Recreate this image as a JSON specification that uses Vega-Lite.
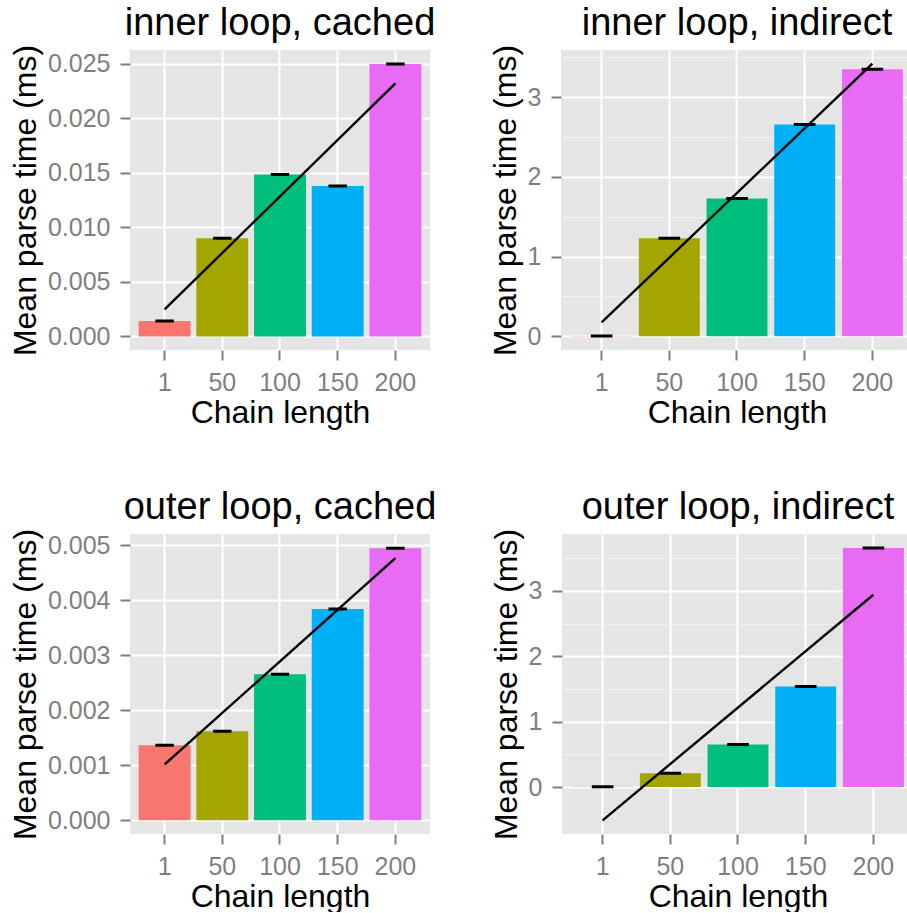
{
  "$schema": "https://vega.github.io/schema/vega-lite/v6.json",
  "background": "white",
  "padding": {"left": 9, "top": 5, "right": 0, "bottom": 0},
  "datasets": {
    "bars": [
      {"panel": "inner loop, cached", "len": 1, "time": 0.00142},
      {"panel": "inner loop, cached", "len": 50, "time": 0.0090},
      {"panel": "inner loop, cached", "len": 100, "time": 0.01486},
      {"panel": "inner loop, cached", "len": 150, "time": 0.01379},
      {"panel": "inner loop, cached", "len": 200, "time": 0.0250},
      {"panel": "inner loop, indirect", "len": 1, "time": 0.004},
      {"panel": "inner loop, indirect", "len": 50, "time": 1.229},
      {"panel": "inner loop, indirect", "len": 100, "time": 1.729},
      {"panel": "inner loop, indirect", "len": 150, "time": 2.657},
      {"panel": "inner loop, indirect", "len": 200, "time": 3.350},
      {"panel": "outer loop, cached", "len": 1, "time": 0.001364},
      {"panel": "outer loop, cached", "len": 50, "time": 0.001618},
      {"panel": "outer loop, cached", "len": 100, "time": 0.002655},
      {"panel": "outer loop, cached", "len": 150, "time": 0.003836},
      {"panel": "outer loop, cached", "len": 200, "time": 0.00494},
      {"panel": "outer loop, indirect", "len": 1, "time": 0.004},
      {"panel": "outer loop, indirect", "len": 50, "time": 0.21},
      {"panel": "outer loop, indirect", "len": 100, "time": 0.65},
      {"panel": "outer loop, indirect", "len": 150, "time": 1.536},
      {"panel": "outer loop, indirect", "len": 200, "time": 3.656}
    ],
    "fits": [
      {"panel": "inner loop, cached", "len": 1, "time": 0.00247},
      {"panel": "inner loop, cached", "len": 200, "time": 0.02322},
      {"panel": "inner loop, indirect", "len": 1, "time": 0.176},
      {"panel": "inner loop, indirect", "len": 200, "time": 3.42},
      {"panel": "outer loop, cached", "len": 1, "time": 0.001015},
      {"panel": "outer loop, cached", "len": 200, "time": 0.004762},
      {"panel": "outer loop, indirect", "len": 1, "time": -0.509},
      {"panel": "outer loop, indirect", "len": 200, "time": 2.94}
    ]
  },
  "config": {
    "font": "Liberation Sans",
    "view": {"fill": "#E5E5E5", "stroke": null},
    "axis": {
      "domain": false,
      "tickColor": "#7F7F7F",
      "tickWidth": 2,
      "tickSize": 10,
      "labelColor": "#7F7F7F",
      "labelFont": "Liberation Sans",
      "labelFontSize": 25,
      "titleFont": "Liberation Sans",
      "titleFontSize": 32,
      "titleFontWeight": "normal",
      "titleColor": "#000000",
      "gridColor": "#FFFFFF",
      "gridWidth": 2,
      "gridOpacity": 1,
      "labelOverlap": false,
      "labelFlush": false
    },
    "axisX": {"labelAngle": 0, "labelPadding": 10, "titlePadding": 2, "bandPosition": 0.5, "grid": true},
    "axisY": {"labelPadding": 10, "titlePadding": 5},
    "title": {"fontSize": 38, "fontWeight": "normal", "font": "Liberation Sans", "color": "#000000", "frame": "group", "anchor": "middle", "offset": 1},
    "legend": {"disable": true}
  },
  "spacing": 61,
  "vconcat": [
    {
      "spacing": 53,
      "hconcat": [
        {
          "width": 300, "height": 300,
          "title": "inner loop, cached",
          "layer": [
            {
              "data": {"name": "bars"},
              "transform": [{"filter": "datum.panel === 'inner loop, cached'"}],
              "mark": {"type": "bar"},
              "encoding": {
                "x": {"field": "len", "type": "ordinal", "scale": {"domain": [1, 50, 100, 150, 200], "paddingInner": 0.1, "paddingOuter": 0.15}, "axis": {"title": "Chain length"}},
                "y": {"field": "time", "type": "quantitative", "scale": {"domain": [-0.00125, 0.02628], "nice": false, "zero": false},
                  "axis": {
                    "title": "Mean parse time (ms)",
                    "values": [0, 0.0025, 0.005, 0.0075, 0.01, 0.0125, 0.015, 0.0175, 0.02, 0.0225, 0.025],
                    "labelExpr": "abs(datum.value/0.005 - round(datum.value/0.005)) < 0.001 ? format(datum.value, '.3f') : ''",
                    "gridColor": {"condition": {"test": "abs(datum.value/0.005 - round(datum.value/0.005)) < 0.001", "value": "#FFFFFF"}, "value": "#F2F2F2"},
                    "gridWidth": {"condition": {"test": "abs(datum.value/0.005 - round(datum.value/0.005)) < 0.001", "value": 2}, "value": 1},
                    "tickOpacity": {"condition": {"test": "abs(datum.value/0.005 - round(datum.value/0.005)) < 0.001", "value": 1}, "value": 0}
                  }
                },
                "color": {"field": "len", "type": "ordinal", "scale": {"domain": [1, 50, 100, 150, 200], "range": ["#F8766D", "#A3A500", "#00BF7D", "#00B0F6", "#E76BF3"]}, "legend": null}
              }
            },
            {
              "data": {"name": "bars"},
              "transform": [{"filter": "datum.panel === 'inner loop, cached'"}],
              "mark": {"type": "bar", "width": {"band": 0.355}, "fillOpacity": 0, "stroke": "black", "strokeWidth": 3},
              "encoding": {
                "x": {"field": "len", "type": "ordinal"},
                "y": {"field": "time", "type": "quantitative"},
                "y2": {"field": "time"}
              }
            },
            {
              "data": {"name": "fits"},
              "transform": [{"filter": "datum.panel === 'inner loop, cached'"}],
              "mark": {"type": "line", "color": "black", "strokeWidth": 2.4},
              "encoding": {
                "x": {"field": "len", "type": "ordinal"},
                "y": {"field": "time", "type": "quantitative"}
              }
            }
          ]
        },
        {
          "width": 352, "height": 300,
          "title": "inner loop, indirect",
          "layer": [
            {
              "data": {"name": "bars"},
              "transform": [{"filter": "datum.panel === 'inner loop, indirect'"}],
              "mark": {"type": "bar"},
              "encoding": {
                "x": {"field": "len", "type": "ordinal", "scale": {"domain": [1, 50, 100, 150, 200], "paddingInner": 0.1, "paddingOuter": 0.15}, "axis": {"title": "Chain length"}},
                "y": {"field": "time", "type": "quantitative", "scale": {"domain": [-0.171, 3.591], "nice": false, "zero": false},
                  "axis": {
                    "title": "Mean parse time (ms)",
                    "values": [0, 0.5, 1, 1.5, 2, 2.5, 3, 3.5],
                    "labelExpr": "abs(datum.value - round(datum.value)) < 0.001 ? format(datum.value, 'd') : ''",
                    "gridColor": {"condition": {"test": "abs(datum.value - round(datum.value)) < 0.001", "value": "#FFFFFF"}, "value": "#F2F2F2"},
                    "gridWidth": {"condition": {"test": "abs(datum.value - round(datum.value)) < 0.001", "value": 2}, "value": 1},
                    "tickOpacity": {"condition": {"test": "abs(datum.value - round(datum.value)) < 0.001", "value": 1}, "value": 0}
                  }
                },
                "color": {"field": "len", "type": "ordinal", "scale": {"domain": [1, 50, 100, 150, 200], "range": ["#F8766D", "#A3A500", "#00BF7D", "#00B0F6", "#E76BF3"]}, "legend": null}
              }
            },
            {
              "data": {"name": "bars"},
              "transform": [{"filter": "datum.panel === 'inner loop, indirect'"}],
              "mark": {"type": "bar", "width": {"band": 0.355}, "fillOpacity": 0, "stroke": "black", "strokeWidth": 3},
              "encoding": {
                "x": {"field": "len", "type": "ordinal"},
                "y": {"field": "time", "type": "quantitative"},
                "y2": {"field": "time"}
              }
            },
            {
              "data": {"name": "fits"},
              "transform": [{"filter": "datum.panel === 'inner loop, indirect'"}],
              "mark": {"type": "line", "color": "black", "strokeWidth": 2.4},
              "encoding": {
                "x": {"field": "len", "type": "ordinal"},
                "y": {"field": "time", "type": "quantitative"}
              }
            }
          ]
        }
      ]
    },
    {
      "spacing": 53,
      "hconcat": [
        {
          "width": 300, "height": 300,
          "title": "outer loop, cached",
          "layer": [
            {
              "data": {"name": "bars"},
              "transform": [{"filter": "datum.panel === 'outer loop, cached'"}],
              "mark": {"type": "bar"},
              "encoding": {
                "x": {"field": "len", "type": "ordinal", "scale": {"domain": [1, 50, 100, 150, 200], "paddingInner": 0.1, "paddingOuter": 0.15}, "axis": {"title": "Chain length"}},
                "y": {"field": "time", "type": "quantitative", "scale": {"domain": [-0.000248, 0.0052], "nice": false, "zero": false},
                  "axis": {
                    "title": "Mean parse time (ms)",
                    "values": [0, 0.0005, 0.001, 0.0015, 0.002, 0.0025, 0.003, 0.0035, 0.004, 0.0045, 0.005],
                    "labelExpr": "abs(datum.value/0.001 - round(datum.value/0.001)) < 0.001 ? format(datum.value, '.3f') : ''",
                    "gridColor": {"condition": {"test": "abs(datum.value/0.001 - round(datum.value/0.001)) < 0.001", "value": "#FFFFFF"}, "value": "#F2F2F2"},
                    "gridWidth": {"condition": {"test": "abs(datum.value/0.001 - round(datum.value/0.001)) < 0.001", "value": 2}, "value": 1},
                    "tickOpacity": {"condition": {"test": "abs(datum.value/0.001 - round(datum.value/0.001)) < 0.001", "value": 1}, "value": 0}
                  }
                },
                "color": {"field": "len", "type": "ordinal", "scale": {"domain": [1, 50, 100, 150, 200], "range": ["#F8766D", "#A3A500", "#00BF7D", "#00B0F6", "#E76BF3"]}, "legend": null}
              }
            },
            {
              "data": {"name": "bars"},
              "transform": [{"filter": "datum.panel === 'outer loop, cached'"}],
              "mark": {"type": "bar", "width": {"band": 0.355}, "fillOpacity": 0, "stroke": "black", "strokeWidth": 3},
              "encoding": {
                "x": {"field": "len", "type": "ordinal"},
                "y": {"field": "time", "type": "quantitative"},
                "y2": {"field": "time"}
              }
            },
            {
              "data": {"name": "fits"},
              "transform": [{"filter": "datum.panel === 'outer loop, cached'"}],
              "mark": {"type": "line", "color": "black", "strokeWidth": 2.4},
              "encoding": {
                "x": {"field": "len", "type": "ordinal"},
                "y": {"field": "time", "type": "quantitative"}
              }
            }
          ]
        },
        {
          "width": 352, "height": 300,
          "title": "outer loop, indirect",
          "layer": [
            {
              "data": {"name": "bars"},
              "transform": [{"filter": "datum.panel === 'outer loop, indirect'"}],
              "mark": {"type": "bar"},
              "encoding": {
                "x": {"field": "len", "type": "ordinal", "scale": {"domain": [1, 50, 100, 150, 200], "paddingInner": 0.1, "paddingOuter": 0.15}, "axis": {"title": "Chain length"}},
                "y": {"field": "time", "type": "quantitative", "scale": {"domain": [-0.7175, 3.8685], "nice": false, "zero": false},
                  "axis": {
                    "title": "Mean parse time (ms)",
                    "values": [0, 0.5, 1, 1.5, 2, 2.5, 3, 3.5],
                    "labelExpr": "abs(datum.value - round(datum.value)) < 0.001 ? format(datum.value, 'd') : ''",
                    "gridColor": {"condition": {"test": "abs(datum.value - round(datum.value)) < 0.001", "value": "#FFFFFF"}, "value": "#F2F2F2"},
                    "gridWidth": {"condition": {"test": "abs(datum.value - round(datum.value)) < 0.001", "value": 2}, "value": 1},
                    "tickOpacity": {"condition": {"test": "abs(datum.value - round(datum.value)) < 0.001", "value": 1}, "value": 0}
                  }
                },
                "color": {"field": "len", "type": "ordinal", "scale": {"domain": [1, 50, 100, 150, 200], "range": ["#F8766D", "#A3A500", "#00BF7D", "#00B0F6", "#E76BF3"]}, "legend": null}
              }
            },
            {
              "data": {"name": "bars"},
              "transform": [{"filter": "datum.panel === 'outer loop, indirect'"}],
              "mark": {"type": "bar", "width": {"band": 0.355}, "fillOpacity": 0, "stroke": "black", "strokeWidth": 3},
              "encoding": {
                "x": {"field": "len", "type": "ordinal"},
                "y": {"field": "time", "type": "quantitative"},
                "y2": {"field": "time"}
              }
            },
            {
              "data": {"name": "fits"},
              "transform": [{"filter": "datum.panel === 'outer loop, indirect'"}],
              "mark": {"type": "line", "color": "black", "strokeWidth": 2.4},
              "encoding": {
                "x": {"field": "len", "type": "ordinal"},
                "y": {"field": "time", "type": "quantitative"}
              }
            }
          ]
        }
      ]
    }
  ]
}
